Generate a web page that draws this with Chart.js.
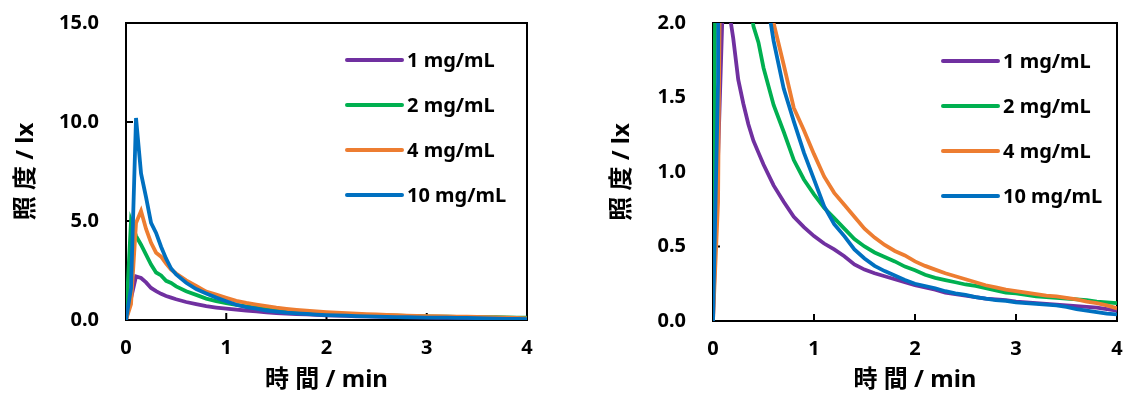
<!DOCTYPE html>
<html>
<head>
<meta charset="utf-8">
<script src="https://cdn.jsdelivr.net/npm/chart.js@4"></script>
<style>
  body { margin: 0; background: #fff; width: 1125px; height: 397px; overflow: hidden; position: relative; }
  canvas { position: absolute; top: 0; }
  #left { left: 0; }
  #right { left: 560px; }
</style>
</head>
<body>
<canvas id="left" width="560" height="397"></canvas>
<canvas id="right" width="565" height="397"></canvas>
<script>
// time in minutes
const times = [0, 0.05, 0.1, 0.15, 0.2, 0.25, 0.3, 0.35, 0.4, 0.45, 0.5,
  0.6, 0.7, 0.8, 0.9, 1.0, 1.1, 1.2, 1.3, 1.4, 1.5, 1.6, 1.7, 1.8, 1.9, 2.0,
  2.1, 2.2, 2.3, 2.4, 2.5, 2.6, 2.7, 2.8, 2.9, 3.0, 3.1, 3.2, 3.3, 3.4, 3.5,
  3.6, 3.7, 3.8, 3.9, 4.0];

const labels = ['1 mg/mL', '2 mg/mL', '4 mg/mL', '10 mg/mL'];
const colors = ['#7030A0', '#00B050', '#ED7D31', '#0070C0'];

// illuminance / lx
const lux1 = [0, 1.1, 2.2, 2.12, 1.9, 1.62, 1.46, 1.32, 1.21, 1.13, 1.05,
  0.91, 0.80, 0.70, 0.63, 0.57, 0.52, 0.48, 0.435, 0.38, 0.345, 0.32, 0.30, 0.28, 0.26, 0.24,
  0.225, 0.21, 0.19, 0.18, 0.17, 0.16, 0.15, 0.145, 0.14, 0.13, 0.125, 0.12, 0.115, 0.11, 0.105,
  0.10, 0.095, 0.09, 0.08, 0.07];
const lux2 = [0, 5.0, 4.25, 3.8, 3.3, 2.8, 2.4, 2.25, 1.98, 1.87, 1.70,
  1.45, 1.27, 1.08, 0.95, 0.85, 0.76, 0.69, 0.62, 0.55, 0.50, 0.46, 0.43, 0.40, 0.365, 0.34,
  0.31, 0.29, 0.275, 0.26, 0.245, 0.235, 0.22, 0.205, 0.19, 0.185, 0.175, 0.165, 0.16, 0.155, 0.15,
  0.145, 0.14, 0.13, 0.125, 0.12];
const lux4 = [0, 0.8, 4.9, 5.5, 4.6, 3.9, 3.4, 3.2, 2.85, 2.55, 2.35,
  2.0, 1.72, 1.43, 1.28, 1.12, 0.97, 0.86, 0.78, 0.70, 0.62, 0.56, 0.51, 0.47, 0.44, 0.40,
  0.37, 0.345, 0.32, 0.30, 0.28, 0.26, 0.24, 0.225, 0.21, 0.20, 0.19, 0.18, 0.17, 0.165, 0.155,
  0.145, 0.13, 0.12, 0.105, 0.085];
const lux10 = [0, 1.6, 10.2, 7.4, 6.2, 4.9, 4.4, 3.7, 3.1, 2.6, 2.3,
  1.88, 1.56, 1.34, 1.13, 0.95, 0.77, 0.65, 0.57, 0.48, 0.42, 0.37, 0.335, 0.305, 0.275, 0.25,
  0.235, 0.22, 0.20, 0.185, 0.175, 0.16, 0.15, 0.14, 0.135, 0.125, 0.12, 0.115, 0.11, 0.105, 0.095,
  0.08, 0.07, 0.06, 0.05, 0.045];

const series = [lux1, lux2, lux4, lux10];
const FONT = "'Noto Sans', 'Noto Sans CJK JP', sans-serif";

const framePlugin = {
  id: 'frame',
  beforeDatasetsDraw(chart) {
    const { ctx, chartArea: a, scales: { x, y } } = chart;
    ctx.save();
    ctx.strokeStyle = '#000';
    ctx.lineWidth = 2;
    ctx.strokeRect(a.left, a.top, a.right - a.left, a.bottom - a.top);
    ctx.beginPath();
    x.ticks.forEach(t => {
      const px = x.getPixelForValue(t.value);
      ctx.moveTo(px, a.bottom);
      ctx.lineTo(px, a.bottom - 7);
    });
    y.ticks.forEach(t => {
      const py = y.getPixelForValue(t.value);
      ctx.moveTo(a.left, py);
      ctx.lineTo(a.left + 7, py);
    });
    ctx.stroke();
    ctx.restore();
  }
};

const legendPlugin = {
  id: 'inlineLegend',
  afterDraw(chart, args, opts) {
    const ctx = chart.ctx;
    ctx.save();
    ctx.font = 'bold 20px ' + FONT;
    ctx.textBaseline = 'middle';
    chart.data.datasets.forEach((ds, i) => {
      const yy = opts.y + i * opts.gap;
      ctx.strokeStyle = ds.borderColor;
      ctx.lineWidth = 4;
      ctx.lineCap = 'round';
      ctx.beginPath();
      ctx.moveTo(opts.x, yy);
      ctx.lineTo(opts.x + 55, yy);
      ctx.stroke();
      ctx.fillStyle = '#000';
      ctx.fillText(ds.label, opts.x + 60, yy + 1);
    });
    ctx.restore();
  }
};

function makeChart(id, cfg) {
  const ctx = document.getElementById(id).getContext('2d');
  return new Chart(ctx, {
    type: 'line',
    data: {
      datasets: series.map((vals, i) => ({
        label: labels[i],
        data: vals.map((v, j) => ({ x: times[j], y: v })),
        borderColor: colors[i],
        borderWidth: 3.8,
        pointRadius: 0,
        tension: 0,
        order: 4 - i
      }))
    },
    options: {
      responsive: false,
      animation: false,
      devicePixelRatio: 1,
      layout: { padding: cfg.padding },
      scales: {
        x: {
          type: 'linear',
          min: 0,
          max: 4,
          grid: { display: false, drawTicks: false },
          border: { display: false },
          ticks: {
            stepSize: 1,
            padding: 16,
            color: '#000',
            font: { family: FONT, size: 20, weight: 'bold' },
            callback: v => v
          },
          title: {
            display: true,
            text: '時 間 / min',
            color: '#000',
            padding: { top: 0, bottom: 2 },
            font: { family: FONT, size: 24, weight: 'bold' }
          },
          afterFit(scale) {
            scale.height = cfg.xHeight;
            scale.paddingLeft = 0;
            scale.paddingRight = 0;
          }
        },
        y: {
          min: 0,
          max: cfg.yMax,
          grid: { display: false, drawTicks: false },
          border: { display: false },
          ticks: {
            stepSize: cfg.yStep,
            padding: 27,
            color: '#000',
            font: { family: FONT, size: 20, weight: 'bold' },
            callback: v => v.toFixed(1)
          },
          title: {
            display: true,
            text: '照 度 / lx',
            color: '#000',
            padding: { top: cfg.yTitlePad, bottom: 0 },
            font: { family: FONT, size: 24, weight: 'bold' }
          },
          afterFit(scale) {
            scale.width = cfg.yWidth;
            scale.paddingTop = 0;
            scale.paddingBottom = 0;
          }
        }
      },
      plugins: {
        legend: { display: false },
        tooltip: { enabled: false },
        inlineLegend: cfg.legend
      }
    },
    plugins: [framePlugin, legendPlugin]
  });
}

makeChart('left', {
  yMax: 15, yStep: 5,
  padding: { top: 23, right: 33, left: 0, bottom: 0 },
  yWidth: 126, xHeight: 77, yTitlePad: 12,
  legend: { x: 347, y: 60, gap: 45 }
});

makeChart('right', {
  yMax: 2, yStep: 0.5,
  padding: { top: 23, right: 8, left: 0, bottom: 0 },
  yWidth: 153, xHeight: 76, yTitlePad: 48,
  legend: { x: 383, y: 61, gap: 45 }
});
</script>
</body>
</html>
